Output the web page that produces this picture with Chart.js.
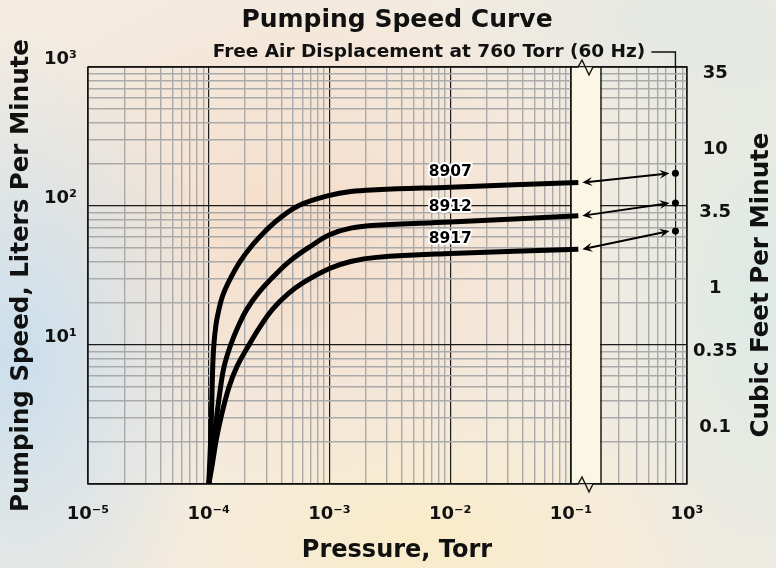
<!DOCTYPE html>
<html>
<head>
<meta charset="utf-8">
<title>Pumping Speed Curve</title>
<script src="https://cdn.jsdelivr.net/npm/chart.js@4.4.1/dist/chart.umd.min.js"></script>
<style>
	html, body { margin: 0; padding: 0; }
	body {
		width: 776px;
		height: 568px;
		overflow: hidden;
		background:
			radial-gradient(ellipse 200px 330px at 20px 360px, rgba(200, 222, 238, 0.95), rgba(200, 222, 238, 0) 100%),
			radial-gradient(ellipse 320px 260px at 300px 230px, rgba(246, 220, 200, 0.9), rgba(246, 220, 200, 0) 100%),
			radial-gradient(ellipse 300px 160px at 420px 540px, rgba(250, 236, 200, 0.95), rgba(250, 236, 200, 0) 100%),
			radial-gradient(ellipse 200px 360px at 770px 300px, rgba(220, 234, 230, 0.95), rgba(220, 234, 230, 0) 100%),
			radial-gradient(ellipse 260px 120px at 680px 20px, rgba(226, 232, 228, 0.9), rgba(226, 232, 228, 0) 100%),
			#f3ebe0;
	}
	canvas { display: block; }
</style>
</head>
<body>
<canvas id="pumpChart" width="776" height="568"></canvas>
<script>
// Curves: pressure in Torr, speed in L/min
const modelNames = ["8907", "8912", "8917"];
const pressure8907 = [1e-4, 1.038e-4, 1.062e-4, 1.079e-4, 1.102e-4, 1.144e-4, 1.198e-4, 1.303e-4, 1.505e-4, 1.804e-4, 2.29e-4, 2.934e-4, 3.85e-4, 5.69e-4, 1e-3, 1.5e-3, 2.45e-3, 1e-2, 0.115];
const speed8907 = [1, 2.12, 4.19, 6.99, 10, 13.7, 17.1, 22.6, 29.9, 39.5, 52.2, 65.9, 81.4, 101.6, 119.2, 127.1, 130.8, 136.6, 147.5];
const pressure8912 = [1e-4, 1.083e-4, 1.159e-4, 1.253e-4, 1.339e-4, 1.519e-4, 1.758e-4, 2.078e-4, 2.59e-4, 3.497e-4, 4.77e-4, 7.18e-4, 1e-3, 1.5e-3, 2.45e-3, 1e-2, 0.115];
const speed8912 = [1, 1.79, 2.98, 4.97, 6.99, 10, 13.7, 18.2, 23.8, 31.6, 40.6, 52.2, 62.2, 69.3, 72.8, 76.7, 85.1];
const pressure8917 = [1e-4, 1.052e-4, 1.159e-4, 1.27e-4, 1.47e-4, 1.711e-4, 2.128e-4, 2.688e-4, 3.382e-4, 4.529e-4, 6.148e-4, 1e-3, 1.5e-3, 2.45e-3, 1e-2, 0.115];
const speed8917 = [1, 1.27, 2.12, 3.08, 4.97, 6.99, 9.83, 13.7, 18.1, 23.3, 28.3, 35.5, 39.9, 42.7, 45.5, 48.8];

// Free air displacement at 760 Torr (dots on the right part)
const freeAirPressure = 760;
const freeAirSpeed = [172, 105, 66];
const labelPressure = 1e-2;

// Axis ticks
const minorSteps = [2, 3, 4, 5, 6, 7, 8, 9];
const xDecades = [1e-5, 1e-4, 1e-3, 1e-2, 1e-1];
const xDecadeLabels = ["10⁻⁵", "10⁻⁴", "10⁻³", "10⁻²", "10⁻¹"];
const x2MinorTicks = [200, 300, 400, 500, 600, 900];
const x2Min = 130;
const x2EndTick = 1000;
const x2EndLabel = "10³";
const yDecades = [1, 10, 100, 1000];
const yDecadeLabels = ["", "10¹", "10²", "10³"];
const cfmTicks = [0.1, 0.35, 1, 3.5, 10, 35];
const LPM_PER_CFM = 28.3168;

const chartTitle = "Pumping Speed Curve";
const chartSubtitle = "Free Air Displacement at 760 Torr (60 Hz)";
const xTitle = "Pressure, Torr";
const yTitle = "Pumping Speed, Liters Per Minute";
const cfmTitle = "Cubic Feet Per Minute";

const FONT = '"DejaVu Sans", sans-serif';
const LEFT_W = 483; // px for 1e-5 .. 1e-1
const GAP_W = 30; // px of the axis break
const RIGHT_W = 86; // px for the 760 Torr part

const curves = [
	{ name: modelNames[0], pressure: pressure8907, speed: speed8907 },
	{ name: modelNames[1], pressure: pressure8912, speed: speed8912 },
	{ name: modelNames[2], pressure: pressure8917, speed: speed8917 },
];

function decadeTicks(decades) {
	const ticks = [];
	decades.forEach((d, i) => {
		ticks.push({ value: d, major: true });
		if (i < decades.length - 1) {
			minorSteps.forEach((s) => ticks.push({ value: d * s, major: false }));
		}
	});
	return ticks;
}

function gridColor(c) {
	return c.tick && c.tick.major ? "#1b1b1b" : "#aaaaaa";
}
function gridWidth(c) {
	return c.tick && c.tick.major ? 1.2 : 1.4;
}

function drawHead(ctx, x, y, ang) {
	ctx.beginPath();
	ctx.moveTo(x, y);
	ctx.lineTo(x - 10 * Math.cos(ang) + 4.5 * Math.sin(ang), y - 10 * Math.sin(ang) - 4.5 * Math.cos(ang));
	ctx.lineTo(x - 6 * Math.cos(ang), y - 6 * Math.sin(ang));
	ctx.lineTo(x - 10 * Math.cos(ang) - 4.5 * Math.sin(ang), y - 10 * Math.sin(ang) + 4.5 * Math.cos(ang));
	ctx.closePath();
	ctx.fill();
}

function drawArrow(ctx, x1, y1, x2, y2) {
	const ang = Math.atan2(y2 - y1, x2 - x1);
	ctx.save();
	ctx.strokeStyle = "#000";
	ctx.fillStyle = "#000";
	ctx.lineWidth = 2;
	ctx.beginPath();
	ctx.moveTo(x1 + 6 * Math.cos(ang), y1 + 6 * Math.sin(ang));
	ctx.lineTo(x2 - 6 * Math.cos(ang), y2 - 6 * Math.sin(ang));
	ctx.stroke();
	drawHead(ctx, x1, y1, ang + Math.PI);
	drawHead(ctx, x2, y2, ang);
	ctx.restore();
}

// Axis break, frame, arrows and free text
const decorations = {
	id: "decorations",
	beforeDatasetsDraw(chart) {
		const { ctx, chartArea: a } = chart;
		const g0 = chart.scales.x.getPixelForValue(xDecades[xDecades.length - 1]);
		const g1 = chart.scales.x2.left;
		ctx.save();
		ctx.fillStyle = "#fcf7e4";
		ctx.fillRect(g0 + 1, a.top + 1, g1 - g0 - 2, a.bottom - a.top - 2);
		ctx.strokeStyle = "#111";
		ctx.lineWidth = 1.4;
		ctx.beginPath();
		ctx.moveTo(g0, a.top);
		ctx.lineTo(a.left, a.top);
		ctx.lineTo(a.left, a.bottom);
		ctx.lineTo(g0, a.bottom);
		ctx.lineTo(g0, a.top);
		ctx.moveTo(g1, a.top);
		ctx.lineTo(a.right, a.top);
		ctx.lineTo(a.right, a.bottom);
		ctx.lineTo(g1, a.bottom);
		ctx.lineTo(g1, a.top);
		ctx.stroke();
		// zigzag break marks
		const zig = [[7, 0], [11, -7], [18, 8], [22, 0]];
		[a.top, a.bottom].forEach((yy) => {
			ctx.beginPath();
			ctx.moveTo(g0, yy);
			zig.forEach(([dx, dy]) => ctx.lineTo(g0 + dx, yy + dy));
			ctx.lineTo(g1, yy);
			ctx.stroke();
		});
		ctx.restore();
	},
	afterDatasetsDraw(chart) {
		const { ctx } = chart;
		const dots = chart.getDatasetMeta(curves.length).data;
		curves.forEach((c, i) => {
			const pts = chart.getDatasetMeta(i).data;
			const end = pts[pts.length - 1];
			drawArrow(ctx, end.x + 4, end.y, dots[i].x - 6, dots[i].y);
			const at = pts[c.pressure.indexOf(labelPressure)];
			ctx.save();
			ctx.font = "bold 15.5px " + FONT;
			ctx.textAlign = "center";
			ctx.textBaseline = "middle";
			ctx.lineJoin = "round";
			ctx.lineWidth = 4;
			ctx.strokeStyle = "#fff";
			ctx.strokeText(c.name, at.x, at.y - 15);
			ctx.fillStyle = "#000";
			ctx.fillText(c.name, at.x, at.y - 15);
			ctx.restore();
		});
	},
	afterDraw(chart) {
		const { ctx, chartArea: a } = chart;
		const x760 = chart.scales.x2.getPixelForValue(freeAirPressure);
		ctx.save();
		ctx.fillStyle = "#111";
		ctx.textAlign = "center";
		ctx.textBaseline = "middle";
		ctx.font = "bold 25px " + FONT;
		ctx.fillText(chartTitle, 397, 20);
		ctx.font = "bold 18.5px " + FONT;
		ctx.fillText(chartSubtitle, 429, 52);
		const subEnd = 429 + ctx.measureText(chartSubtitle).width / 2 + 6;
		ctx.strokeStyle = "#111";
		ctx.lineWidth = 1.4;
		ctx.beginPath();
		ctx.moveTo(subEnd, 52);
		ctx.lineTo(x760, 52);
		ctx.lineTo(x760, a.top);
		ctx.stroke();
		ctx.font = "bold 24px " + FONT;
		ctx.fillText(xTitle, 397, 551);
		ctx.translate(762, 285);
		ctx.rotate(-Math.PI / 2);
		ctx.font = "bold 24.5px " + FONT;
		ctx.fillText(cfmTitle, 0, 0);
		ctx.restore();
	},
};

Chart.defaults.font.family = FONT;
Chart.defaults.font.weight = "bold";
Chart.defaults.color = "#111";

const datasets = curves.map((c) => ({
	label: c.name,
	data: c.pressure.map((p, i) => ({ x: p, y: c.speed[i] })),
	xAxisID: "x",
	yAxisID: "y",
	borderColor: "#000",
	borderWidth: 5,
	borderCapStyle: "butt",
	borderJoinStyle: "round",
	pointRadius: 0,
	fill: false,
	tension: 0.4,
}));
datasets.push({
	type: "scatter",
	label: "760 Torr",
	data: freeAirSpeed.map((s) => ({ x: freeAirPressure, y: s })),
	xAxisID: "x2",
	yAxisID: "y",
	pointRadius: 3.5,
	pointBackgroundColor: "#000",
	pointBorderWidth: 0,
});

var ctx = document.getElementById("pumpChart").getContext("2d");
var pumpChart = new Chart(ctx, {
	type: "line",
	data: { datasets: datasets },
	plugins: [decorations],
	options: {
		responsive: false,
		animation: false,
		events: [],
		layout: { padding: { top: 67, left: 0, right: 0, bottom: 0 } },
		plugins: {
			legend: { display: false },
			tooltip: { enabled: false },
		},
		scales: {
			x: {
				type: "logarithmic",
				position: "bottom",
				stack: "pressure",
				stackWeight: LEFT_W + GAP_W,
				min: xDecades[0],
				max: Math.pow(10, Math.log10(xDecades[xDecades.length - 1]) + (4 * GAP_W) / LEFT_W),
				afterBuildTicks: (s) => {
					s.ticks = decadeTicks(xDecades);
				},
				afterFit: (s) => {
					s.height = 84;
				},
				grid: { color: gridColor, lineWidth: gridWidth, drawTicks: false },
				border: { display: false },
				ticks: {
					autoSkip: false,
					maxRotation: 0,
					padding: 20,
					font: { size: 18 },
					callback: (v) => {
						const i = xDecades.indexOf(v);
						return i < 0 ? "" : xDecadeLabels[i];
					},
				},
			},
			x2: {
				type: "logarithmic",
				position: "bottom",
				stack: "pressure",
				stackWeight: RIGHT_W,
				min: x2Min,
				max: x2EndTick,
				afterBuildTicks: (s) => {
					s.ticks = x2MinorTicks
						.map((v) => ({ value: v, major: false }))
						.concat([{ value: freeAirPressure, major: true }, { value: x2EndTick, major: true }])
						.sort((p, q) => p.value - q.value);
				},
				afterFit: (s) => {
					s.height = 84;
				},
				grid: { color: gridColor, lineWidth: gridWidth, drawTicks: false },
				border: { display: false },
				ticks: {
					autoSkip: false,
					maxRotation: 0,
					padding: 20,
					font: { size: 18 },
					callback: (v) => (v === x2EndTick ? x2EndLabel : ""),
				},
			},
			y: {
				type: "logarithmic",
				position: "left",
				min: yDecades[0],
				max: yDecades[yDecades.length - 1],
				afterBuildTicks: (s) => {
					s.ticks = decadeTicks(yDecades);
				},
				afterFit: (s) => {
					s.width = 88;
				},
				grid: { color: gridColor, lineWidth: gridWidth, drawTicks: false },
				border: { display: false },
				ticks: {
					autoSkip: false,
					padding: 11,
					labelOffset: -8,
					font: { size: 18 },
					callback: (v) => {
						const i = yDecades.indexOf(v);
						return i < 0 ? "" : yDecadeLabels[i];
					},
				},
				title: {
					display: true,
					text: yTitle,
					font: { size: 24.5, weight: "bold" },
					padding: { top: 7, bottom: 0 },
				},
			},
			y2: {
				type: "logarithmic",
				position: "right",
				min: yDecades[0] / LPM_PER_CFM,
				max: yDecades[yDecades.length - 1] / LPM_PER_CFM,
				afterBuildTicks: (s) => {
					s.ticks = cfmTicks.map((v) => ({ value: v }));
				},
				afterFit: (s) => {
					s.width = 89;
				},
				grid: { display: false, drawTicks: false },
				border: { display: false },
				ticks: {
					autoSkip: false,
					padding: 6,
					crossAlign: "center",
					labelOffset: 6,
					font: { size: 18 },
					callback: (v) => String(v),
				},
			},
		},
	},
});
</script>
</body>
</html>
